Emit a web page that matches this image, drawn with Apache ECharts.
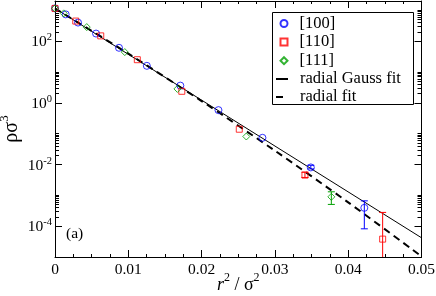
<!DOCTYPE html>
<html><head><meta charset="utf-8">
<script src="https://cdn.jsdelivr.net/npm/echarts@6/dist/echarts.min.js"></script>
<style>html,body{margin:0;padding:0;background:#fff}#c{width:436px;height:296px}</style>
</head><body><div id="c"></div>
<script>
// ---- data ----
const x100 = [0, 0.00146, 0.00314, 0.0056, 0.00873, 0.01253, 0.0171, 0.0223, 0.0283, 0.0349, 0.0422];
const y100 = [1150, 737, 399, 176, 60.8, 15.8, 3.61, 0.579, 0.0733, 0.00803, 0.000393];
const x110 = [0, 0.00283, 0.00624, 0.01123, 0.0173, 0.02514, 0.0341, 0.0447];
const y110 = [1150, 447, 148, 25.0, 2.36, 0.139, 0.00452, 0.000038];
const x111 = [0, 0.00119, 0.00433, 0.00952, 0.0167, 0.0261, 0.0377];
const y111 = [1150, 794, 285, 44.1, 2.82, 0.0807, 0.000893];
// error bars: [x, low, high]
const err100 = [[0.0349, 0.00718, 0.0094], [0.0422, 0.000082, 0.000662]];
const err110 = [[0.0341, 0.0038, 0.00562], [0.0447, 0.000005, 0.000279]];
const err111 = [[0.0377, 0.000507, 0.0013]];
// fit curves
const gaussX = [0, 0.05];
const gaussY = [1150, 0.000042];
const radialX = [0, 0.01, 0.02, 0.03, 0.04, 0.05];
const radialY = [1150, 39.3, 1.14, 0.028, 0.00059, 0.0000105];
// axes
const xTickLabels = ['0', '0.01', '0.02', '0.03', '0.04', '0.05'];
const yMajor = [1e-4, 1e-2, 1, 100];
const yMinor = [1e-5,
  2e-4, 3e-4, 4e-4, 5e-4, 6e-4, 7e-4, 8e-4, 9e-4, 1e-3,
  2e-2, 3e-2, 4e-2, 5e-2, 6e-2, 7e-2, 8e-2, 9e-2, 1e-1,
  2, 3, 4, 5, 6, 7, 8, 9, 10,
  200, 300, 400, 500, 600, 700, 800, 900, 1000];

const FONT = '"Liberation Serif", serif';
const zip = (xs, ys) => xs.map((x, i) => [x, ys[i]]);

function errItem(color) {
  return function (params, api) {
    const x = api.value(0), lo = api.value(1), hi = api.value(2);
    const p1 = api.coord([x, lo]), p2 = api.coord([x, hi]);
    const w = 3.5, st = { stroke: color, lineWidth: 1 };
    return { type: 'group', children: [
      { type: 'line', shape: { x1: p1[0], y1: p1[1], x2: p2[0], y2: p2[1] }, style: st },
      { type: 'line', shape: { x1: p1[0] - w, y1: p1[1], x2: p1[0] + w, y2: p1[1] }, style: st },
      { type: 'line', shape: { x1: p2[0] - w, y1: p2[1], x2: p2[0] + w, y2: p2[1] }, style: st }
    ]};
  };
}

const yBase = (pos, ticks, len, showLabel, showLine) => ({
  type: 'log', logBase: 10, min: 1e-5, max: 2000, position: pos,
  axisLine: { show: showLine, lineStyle: { color: '#000', width: 1 } },
  axisTick: { show: true, inside: true, length: len, customValues: ticks, lineStyle: { color: '#000' } },
  axisLabel: showLabel ? {
    show: true, customValues: ticks, margin: 3,
    formatter: v => '{b|10}{s|' + Math.round(Math.log10(v)) + '}',
    rich: {
      b: { fontFamily: FONT, fontSize: 15.5, color: '#000', lineHeight: 18, verticalAlign: 'bottom' },
      s: { fontFamily: FONT, fontSize: 10.5, color: '#000', lineHeight: 18, verticalAlign: 'top' }
    }
  } : { show: false },
  splitLine: { show: false }
});

const xBase = (pos, showLabel) => ({
  type: 'value', min: 0, max: 0.05, interval: 0.01, position: pos,
  axisLine: { show: true, onZero: false, lineStyle: { color: '#000', width: 1 } },
  axisTick: { show: true, inside: true, length: 7, lineStyle: { color: '#000' } },
  minorTick: { show: true, splitNumber: 4, length: 3, lineStyle: { color: '#000' } },
  axisLabel: showLabel ? {
    show: true, margin: 5, fontFamily: FONT, fontSize: 15.5, color: '#000',
    formatter: v => xTickLabels[Math.round(v / 0.01)]
  } : { show: false },
  splitLine: { show: false }
});

const chart = echarts.init(document.getElementById('c'), null, { renderer: 'canvas' });
const xb = xBase('bottom', true);
xb.name = '{i|r}{s|2}{n| / σ}{s|2}';
xb.nameLocation = 'middle';
xb.nameGap = 15;
xb.nameMoveOverlap = false;
xb.nameTextStyle = { rich: {
  i: { fontFamily: FONT, fontStyle: 'italic', fontSize: 18, color: '#000', lineHeight: 22, verticalAlign: 'bottom' },
  n: { fontFamily: FONT, fontSize: 18, color: '#000', lineHeight: 22, verticalAlign: 'bottom' },
  s: { fontFamily: FONT, fontSize: 12, color: '#000', lineHeight: 22, verticalAlign: 'top' }
}};
const yl = yBase('left', yMajor, 7, true, true);
yl.name = '{g|ρσ}{s|3}';
yl.nameLocation = 'middle';
yl.nameRotate = 90;
yl.nameGap = 33;
yl.nameMoveOverlap = false;
yl.nameTextStyle = { rich: {
  g: { fontFamily: FONT, fontSize: 20, color: '#000', lineHeight: 24, verticalAlign: 'bottom' },
  s: { fontFamily: FONT, fontSize: 13, color: '#000', lineHeight: 24, verticalAlign: 'top' }
}};

const legendText = { fontFamily: FONT, fontSize: 16.5, color: '#000', lineHeight: 18, padding: [0, 0, 0, 7] };
const hideSym = { color: 'rgba(0,0,0,0)', borderWidth: 0 };

const option = {
  animation: false,
  backgroundColor: '#fff',
  grid: { left: 55, right: 14.5, top: 1, bottom: 39, containLabel: false, outerBoundsMode: 'none' },
  xAxis: [xb, xBase('top', false)],
  yAxis: [yl, yBase('left', yMinor, 4, false, false), yBase('right', yMajor, 7, false, true), yBase('right', yMinor, 4, false, false)],
  legend: [{
    orient: 'vertical', left: 279.5, top: 14.5, padding: 0,
    itemWidth: 7, itemHeight: 7, itemGap: 0.6,
    textStyle: legendText,
    data: ['[100]', '[110]', '[111]']
  }, {
    orient: 'vertical', left: 275, top: 70, padding: 0,
    itemWidth: 12, itemHeight: 7, itemGap: 0,
    textStyle: legendText,
    data: [{ name: 'radial Gauss fit', itemStyle: hideSym }, { name: 'radial fit', itemStyle: hideSym }]
  }],
  graphic: [
    { type: 'rect', left: 272, top: 12, z: 1, shape: { width: 141, height: 92 }, style: { fill: '#fff', stroke: '#000', lineWidth: 1 } },
    { type: 'text', left: 66, top: 226, style: { text: '(a)', font: '15.5px "Liberation Serif"', fill: '#000' } }
  ],
  series: [
    { name: 'radial Gauss fit', type: 'line', data: zip(gaussX, gaussY), symbol: 'none', lineStyle: { color: '#000', width: 1 }, itemStyle: { color: '#000' }, z: 2 },
    { name: 'radial fit', type: 'line', data: zip(radialX, radialY), symbol: 'none', smooth: 0.3, lineStyle: { color: '#000', width: 2, type: [7, 5] }, itemStyle: { color: '#000' }, z: 2 },
    { name: '[100]', type: 'scatter', data: zip(x100, y100), symbol: 'circle', symbolSize: 7, itemStyle: { color: 'rgba(0,0,0,0)', borderColor: '#0000ff', borderWidth: 1 }, z: 3 },
    { name: '[110]', type: 'scatter', data: zip(x110, y110), symbol: 'rect', symbolSize: 6, itemStyle: { color: 'rgba(0,0,0,0)', borderColor: '#ff0000', borderWidth: 1 }, z: 3 },
    { name: '[111]', type: 'scatter', data: zip(x111, y111), symbol: 'diamond', symbolSize: 7, itemStyle: { color: 'rgba(0,0,0,0)', borderColor: '#00a000', borderWidth: 1 }, z: 3 },
    { name: 'e100', type: 'custom', data: err100, renderItem: errItem('#0000ff'), encode: { x: 0, y: [1, 2] }, clip: true, z: 3 },
    { name: 'e110', type: 'custom', data: err110, renderItem: errItem('#ff0000'), encode: { x: 0, y: [1, 2] }, clip: true, z: 3 },
    { name: 'e111', type: 'custom', data: err111, renderItem: errItem('#00a000'), encode: { x: 0, y: [1, 2] }, clip: true, z: 3 }
  ]
};
chart.setOption(option);
</script>
</body></html>
